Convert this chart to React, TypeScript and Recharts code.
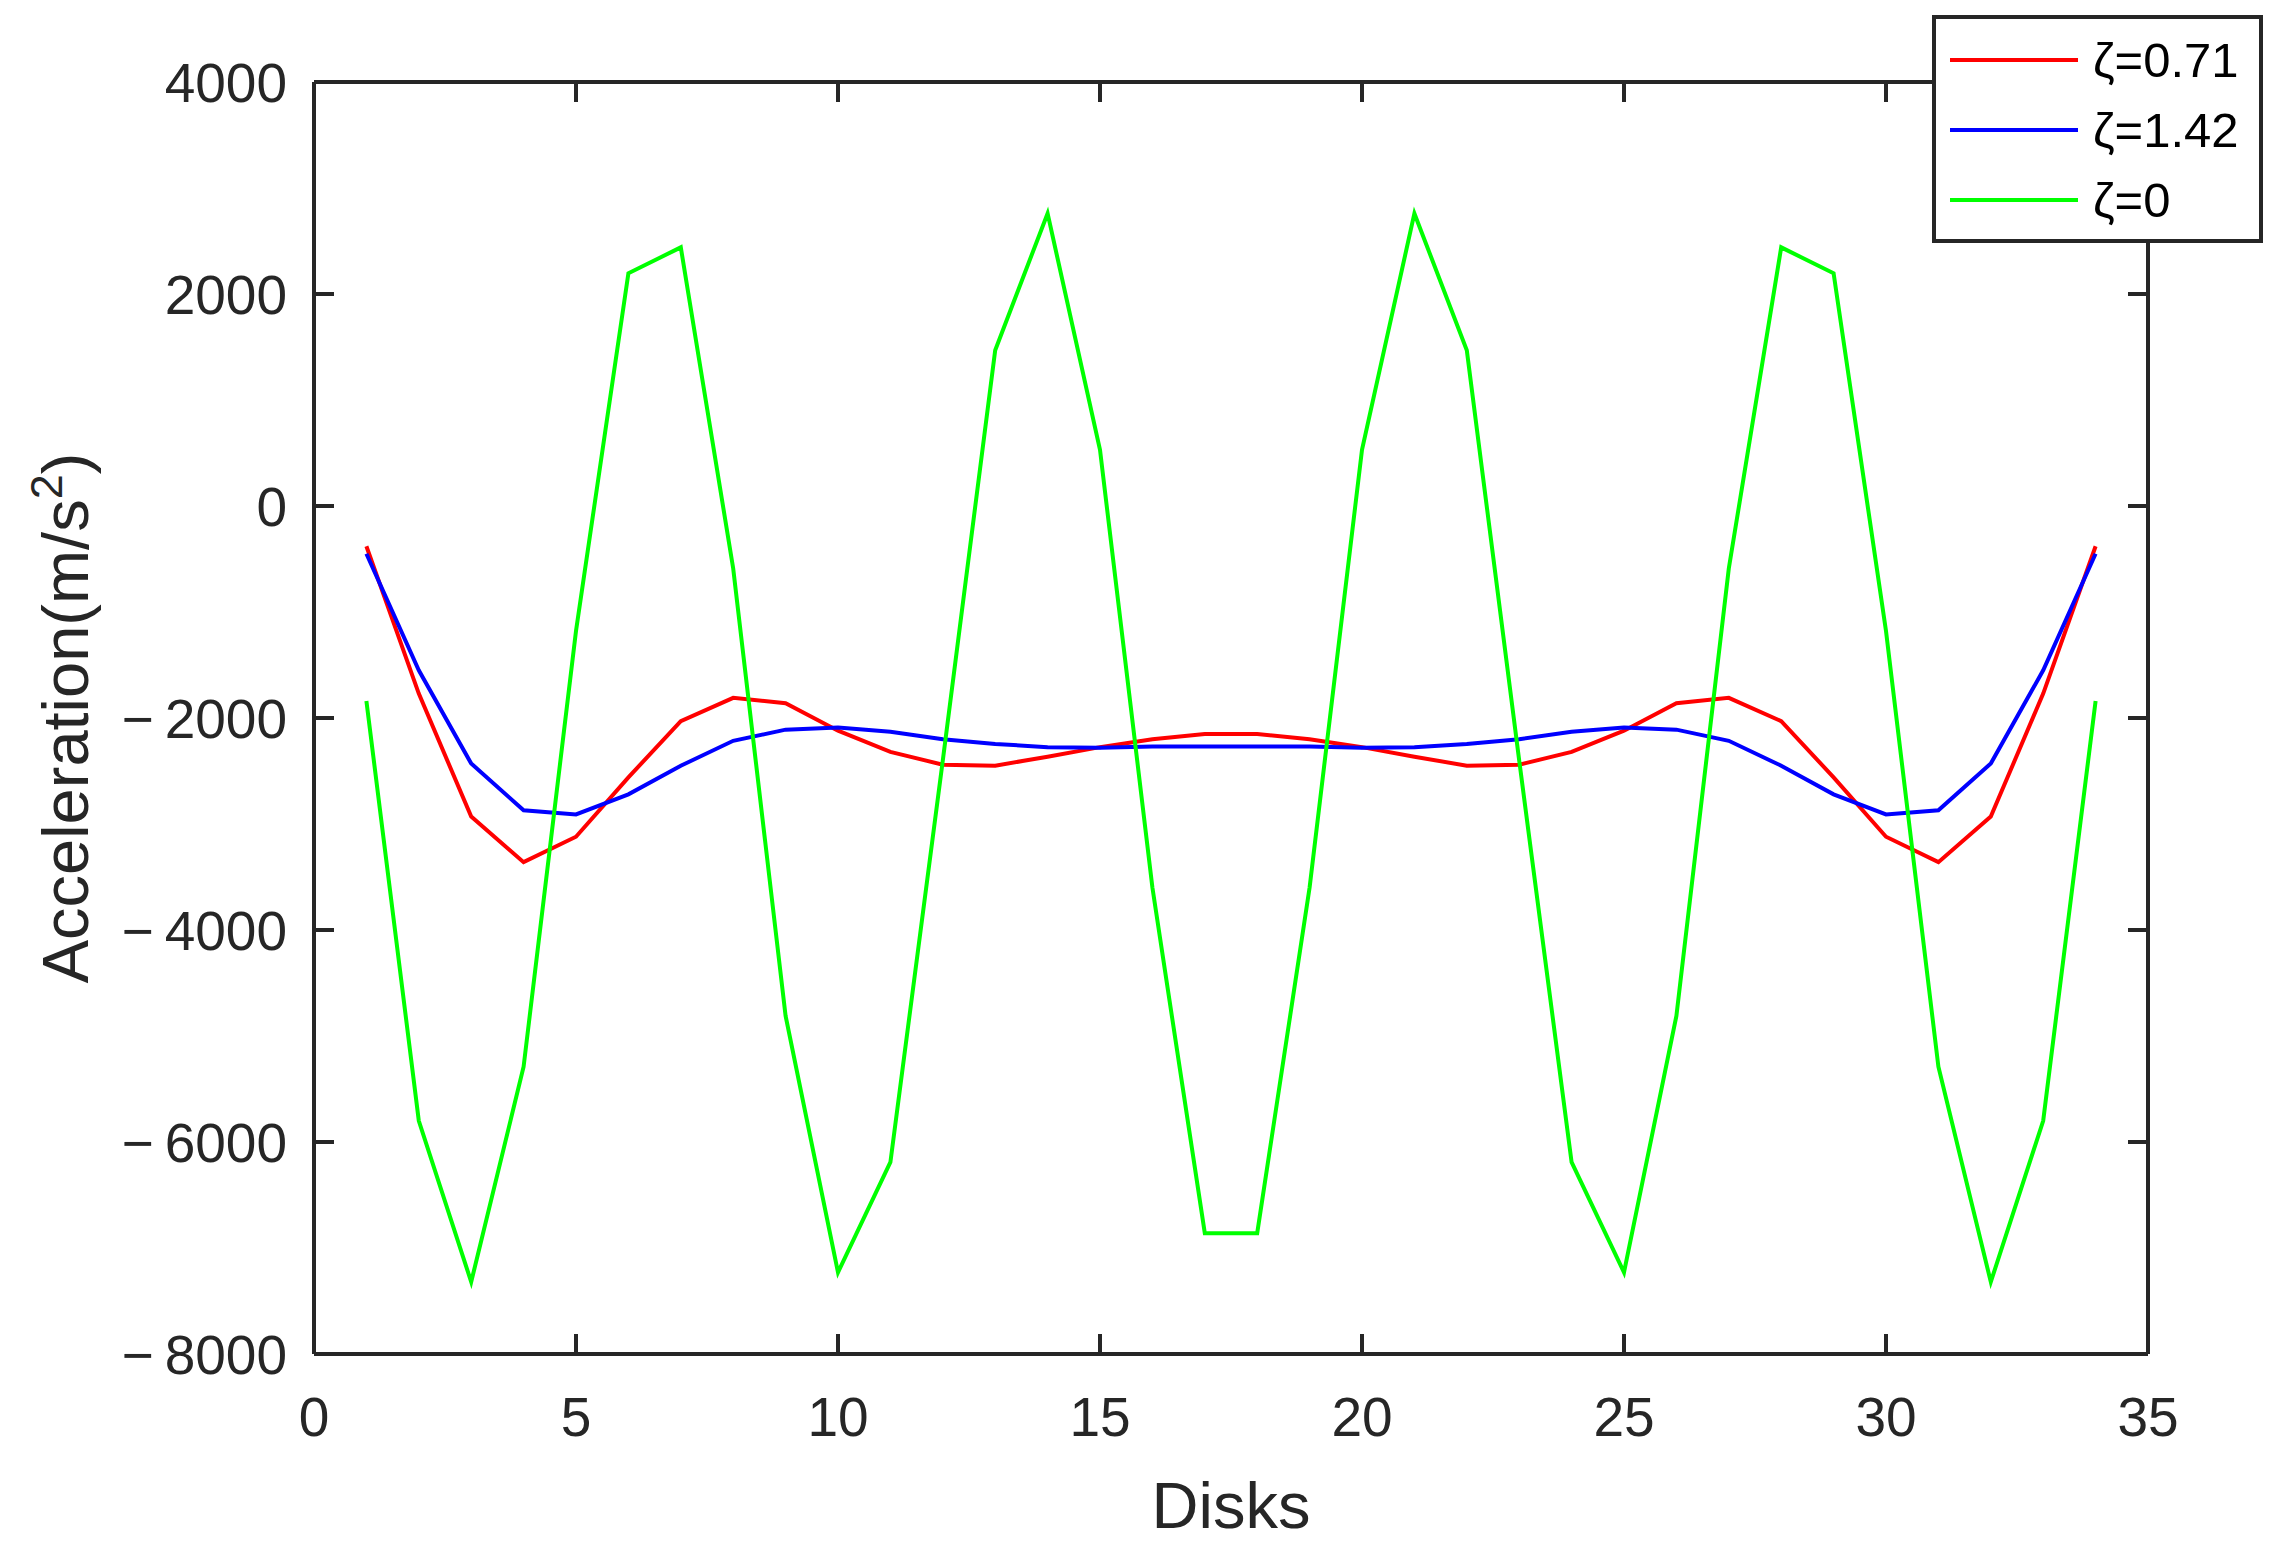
import { Label, Legend, Line, LineChart, XAxis, YAxis } from 'recharts';

const disks = [
  1, 2, 3, 4, 5, 6, 7, 8, 9, 10, 11, 12, 13, 14, 15, 16, 17, 18, 19, 20, 21, 22, 23, 24, 25, 26, 27,
  28, 29, 30, 31, 32, 33, 34,
];

const zeta071 = [
  -380, -1770, -2930, -3360, -3120, -2560, -2030, -1810, -1860, -2120, -2320, -2440, -2450, -2365,
  -2275, -2200, -2150, -2150, -2200, -2275, -2365, -2450, -2440, -2320, -2120, -1860, -1810, -2030,
  -2560, -3120, -3360, -2930, -1770, -380,
];

const zeta142 = [
  -450, -1550, -2430, -2870, -2910, -2720, -2450, -2215, -2110, -2090, -2130, -2200, -2245, -2275,
  -2280, -2270, -2270, -2270, -2270, -2280, -2275, -2245, -2200, -2130, -2090, -2110, -2215, -2450,
  -2720, -2910, -2870, -2430, -1550, -450,
];

const zeta0 = [
  -1840, -5800, -7320, -5290, -1180, 2195, 2440, -590, -4810, -7230, -6190, -2400, 1470, 2760, 530,
  -3600, -6860, -6860, -3600, 530, 2760, 1470, -2400, -6190, -7230, -4810, -590, 2440, 2195, -1180,
  -5290, -7320, -5800, -1840,
];

const xTicks = [0, 5, 10, 15, 20, 25, 30, 35];
const yTicks = [-8000, -6000, -4000, -2000, 0, 2000, 4000];

const seriesNames = ['ζ=0.71', 'ζ=1.42', 'ζ=0'];

const data = disks.map((d, i) => ({ disk: d, z071: zeta071[i], z142: zeta142[i], z0: zeta0[i] }));

const FONT = '"Liberation Sans", Arial, Helvetica, sans-serif';
const AX = '#262626';
const TICK_LEN = 20;

// plot box edges (from the margins and axis sizes below)
const PLOT_LEFT = 314;
const PLOT_RIGHT = 2148;
const PLOT_TOP = 82;
const PLOT_BOTTOM = 1354;

const fmtY = (v: number) => (v < 0 ? '\u2212\u2009' + Math.abs(v) : String(v));

const axisLineStyle = { stroke: AX, strokeWidth: 4 };

function BottomTick(props: any) {
  const { x, payload } = props;
  return (
    <text x={x} y={PLOT_BOTTOM + 82} textAnchor="middle" fontFamily={FONT} fontSize={55} fill={AX}>
      {payload.value}
    </text>
  );
}

function LeftTick(props: any) {
  const { y, payload } = props;
  return (
    <text x={PLOT_LEFT - 27} y={y} dy="0.36em" textAnchor="end" fontFamily={FONT} fontSize={55} fill={AX}>
      {fmtY(payload.value)}
    </text>
  );
}

// inward tick marks on top and bottom edges
function TopTick(props: any) {
  const { x } = props;
  return (
    <g>
      <line x1={x} x2={x} y1={PLOT_TOP} y2={PLOT_TOP + TICK_LEN} stroke={AX} strokeWidth={4} />
      <line x1={x} x2={x} y1={PLOT_BOTTOM} y2={PLOT_BOTTOM - TICK_LEN} stroke={AX} strokeWidth={4} />
    </g>
  );
}

// inward tick marks on right and left edges
function RightTick(props: any) {
  const { y } = props;
  return (
    <g>
      <line x1={PLOT_RIGHT} x2={PLOT_RIGHT - TICK_LEN} y1={y} y2={y} stroke={AX} strokeWidth={4} />
      <line x1={PLOT_LEFT} x2={PLOT_LEFT + TICK_LEN} y1={y} y2={y} stroke={AX} strokeWidth={4} />
    </g>
  );
}

function LegendBox(props: any) {
  const items = [...(props.payload || [])].sort(
    (a: any, b: any) => seriesNames.indexOf(a.value) - seriesNames.indexOf(b.value),
  );
  return (
    <div
      style={{
        width: 331,
        height: 228,
        boxSizing: 'border-box',
        border: `4px solid ${AX}`,
        background: '#fff',
        paddingTop: 6,
      }}
    >
      {items.map((it: any) => (
        <div key={it.value} style={{ display: 'flex', alignItems: 'center', height: 70 }}>
          <div style={{ marginLeft: 14, width: 128, height: 4, background: it.color }} />
          <span
            style={{
              marginLeft: 15,
              fontFamily: FONT,
              fontSize: 49,
              lineHeight: 1,
              color: '#000',
            }}
          >
            {it.value}
          </span>
        </div>
      ))}
    </div>
  );
}

export default function App() {
  return (
    <div style={{ position: 'absolute', left: 0, top: 0, width: 2275, height: 1548, background: '#fff' }}>
      <LineChart width={2275} height={1548} data={data} margin={{ top: 81, right: 126, bottom: 94, left: 14 }}>
        <XAxis
          dataKey="disk"
          type="number"
          domain={[0, 35]}
          ticks={xTicks}
          interval={0}
          height={100}
          tickSize={0}
          tickMargin={0}
          tickLine={false}
          tick={BottomTick}
          axisLine={axisLineStyle}
        >
          <Label
            content={() => (
              <text x={1231} y={1528} textAnchor="middle" fontFamily={FONT} fontSize={65} fill={AX}>
                Disks
              </text>
            )}
          />
        </XAxis>
        <XAxis
          xAxisId="top"
          orientation="top"
          dataKey="disk"
          type="number"
          domain={[0, 35]}
          ticks={xTicks}
          interval={0}
          height={1}
          tickSize={0}
          tickMargin={0}
          tickLine={false}
          tick={TopTick}
          axisLine={axisLineStyle}
        />
        <YAxis
          type="number"
          domain={[-8000, 4000]}
          ticks={yTicks}
          interval={0}
          width={300}
          tickSize={0}
          tickMargin={0}
          tickLine={false}
          tick={LeftTick}
          axisLine={axisLineStyle}
        >
          <Label
            content={() => (
              <text
                x={88}
                y={718}
                transform="rotate(-90 88 718)"
                textAnchor="middle"
                fontFamily={FONT}
                fontSize={65}
                fill={AX}
              >
                Acceleration(m/s
                <tspan fontSize={45} dy={-26}>
                  2
                </tspan>
                <tspan dy={26}>)</tspan>
              </text>
            )}
          />
        </YAxis>
        <YAxis
          yAxisId="right"
          orientation="right"
          type="number"
          domain={[-8000, 4000]}
          ticks={yTicks}
          interval={0}
          width={1}
          tickSize={0}
          tickMargin={0}
          tickLine={false}
          tick={RightTick}
          axisLine={axisLineStyle}
        />
        <Legend
          layout="vertical"
          align="center"
          verticalAlign="middle"
          content={LegendBox}
          wrapperStyle={{ left: 1932, top: 15, width: 331, height: 228 }}
        />
        <Line
          dataKey="z071"
          name={seriesNames[0]}
          stroke="#ff0000"
          strokeWidth={4}
          dot={false}
          isAnimationActive={false}
        />
        <Line
          dataKey="z142"
          name={seriesNames[1]}
          stroke="#0000ff"
          strokeWidth={4}
          dot={false}
          isAnimationActive={false}
        />
        <Line
          dataKey="z0"
          xAxisId="top"
          yAxisId="right"
          name={seriesNames[2]}
          stroke="#00ff00"
          strokeWidth={4}
          dot={false}
          isAnimationActive={false}
        />
      </LineChart>
    </div>
  );
}
